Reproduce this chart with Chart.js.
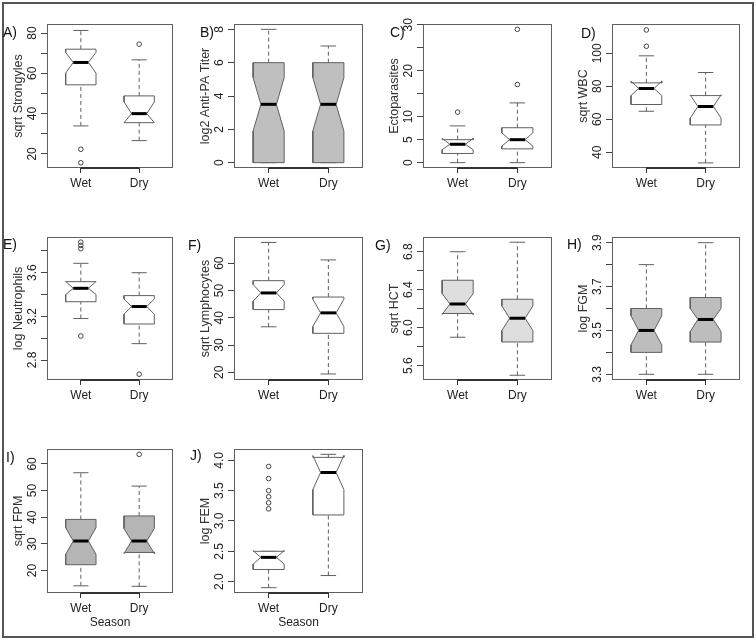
<!DOCTYPE html>
<html>
<head>
<meta charset="utf-8">
<script src="https://cdn.jsdelivr.net/npm/chart.js@4.4.1/dist/chart.umd.min.js"></script>
<style>
  body { margin: 0; background: #fff; width: 756px; height: 640px; position: relative; overflow: hidden; font-family: "Liberation Sans", Arial, sans-serif; }
  #frame { position: absolute; left: 2px; top: 2px; width: 752px; height: 636px; box-sizing: border-box; border: 2px solid #555; }
  canvas { position: absolute; }
  .tag { position: absolute; font-size: 14px; line-height: 14px; color: #111; }
</style>
</head>
<body>
<div id="frame"></div>
<script>
// Groups on the x axis
const seasons = ['Wet', 'Dry'];

// Boxes: [lower whisker, Q1, median, Q3, upper whisker]
// Notches: [low, high] for Wet and Dry; outliers per season
const strongylesWet = [33.9, 54.3, 65.4, 72.0, 81.3];
const strongylesDry = [26.6, 35.5, 40.0, 48.8, 66.7];
const strongylesNotch = [[60.1, 70.4], [35.5, 45.8]];
const strongylesOut = [[22.3, 15.6], [74.5]];
const strongylesTicks = [20, 30, 40, 50, 60, 70, 80];
const strongylesLabels = ['20', '40', '60', '80'];

const titerWet = [0, 0, 3.5, 6, 8];
const titerDry = [0, 0, 3.5, 6, 7];
const titerNotch = [[1.9, 5.1], [1.9, 5.1]];
const titerOut = [[], []];
const titerTicks = [0, 2, 4, 6, 8];
const titerLabels = ['0', '2', '4', '6', '8'];

const ectoWet = [0, 2, 4, 5, 8];
const ectoDry = [0, 3, 5, 7.6, 13];
const ectoNotch = [[2.8, 5.3], [3.6, 6.5]];
const ectoOut = [[11], [17, 29]];
const ectoTicks = [0, 5, 10, 15, 20, 25, 30];
const ectoLabels = ['0', '5', '10', '20', '30'];

const wbcWet = [64.9, 69.0, 78.7, 82.1, 98.5];
const wbcDry = [33.6, 56.6, 67.8, 74.4, 88.4];
const wbcNotch = [[74.4, 83.2], [60.8, 74.8]];
const wbcOut = [[104.3, 114.2], []];
const wbcTicks = [40, 60, 80, 100];
const wbcLabels = ['40', '60', '80', '100'];

const neutWet = [3.18, 3.334, 3.457, 3.518, 3.686];
const neutDry = [2.95, 3.13, 3.29, 3.39, 3.60];
const neutNotch = [[3.40, 3.52], [3.22, 3.36]];
const neutOut = [[3.02, 3.82, 3.85, 3.88], [2.67]];
const neutTicks = [2.8, 3.0, 3.2, 3.4, 3.6, 3.8];
const neutLabels = ['2.8', '3.2', '3.6'];

const lymphWet = [36.7, 43.0, 49.1, 53.6, 67.6];
const lymphDry = [19.4, 34.3, 41.8, 47.6, 61.2];
const lymphNotch = [[46.1, 52.2], [36.8, 46.8]];
const lymphOut = [[], []];
const lymphTicks = [20, 30, 40, 50, 60];
const lymphLabels = ['20', '30', '40', '50', '60'];

const hctWet = [5.9, 6.15, 6.25, 6.5, 6.8];
const hctDry = [5.5, 5.85, 6.1, 6.3, 6.9];
const hctNotch = [[6.14, 6.36], [5.97, 6.23]];
const hctOut = [[], []];
const hctTicks = [5.6, 5.8, 6.0, 6.2, 6.4, 6.6, 6.8];
const hctLabels = ['5.6', '6.0', '6.4', '6.8'];

const fgmWet = [3.3, 3.4, 3.5, 3.6, 3.8];
const fgmDry = [3.3, 3.447, 3.55, 3.65, 3.9];
const fgmNotch = [[3.434, 3.567], [3.495, 3.6]];
const fgmOut = [[], []];
const fgmTicks = [3.3, 3.4, 3.5, 3.6, 3.7, 3.8, 3.9];
const fgmLabels = ['3.3', '3.5', '3.7', '3.9'];

const fpmWet = [14.3, 22.2, 31.1, 39.2, 56.7];
const fpmDry = [14.1, 26.8, 31.1, 40.5, 51.7];
const fpmNotch = [[26.1, 36.1], [26.4, 35.8]];
const fpmOut = [[], [63.6]];
const fpmTicks = [20, 30, 40, 50, 60];
const fpmLabels = ['20', '30', '40', '50', '60'];

const femWet = [1.9, 2.2, 2.4, 2.5, 2.5];
const femDry = [2.1, 3.1, 3.8, 4.05, 4.1];
const femNotch = [[2.29, 2.51], [3.52, 4.08]];
const femOut = [[3.2, 3.3, 3.4, 3.5, 3.7, 3.9], []];
const femTicks = [2.0, 2.5, 3.0, 3.5, 4.0];
const femLabels = ['2.0', '2.5', '3.0', '3.5', '4.0'];

// Panel setup (layout + y ranges)
const panels = [
  { tag: 'A)', title: 'sqrt Strongyles', wet: strongylesWet, dry: strongylesDry, notch: strongylesNotch, out: strongylesOut, ticks: strongylesTicks, labels: strongylesLabels, min: 13, max: 84.5, fill: '#ffffff', col: 0, row: 0, tagAt: [3, 25] },
  { tag: 'B)', title: 'log2 Anti-PA Titer', wet: titerWet, dry: titerDry, notch: titerNotch, out: titerOut, ticks: titerTicks, labels: titerLabels, min: -0.32, max: 8.32, fill: '#bfbfbf', col: 1, row: 0, tagAt: [200, 25] },
  { tag: 'C)', title: 'Ectoparasites', wet: ectoWet, dry: ectoDry, notch: ectoNotch, out: ectoOut, ticks: ectoTicks, labels: ectoLabels, min: -1.16, max: 30.16, fill: '#ffffff', col: 2, row: 0, tagAt: [390, 25] },
  { tag: 'D)', title: 'sqrt WBC', wet: wbcWet, dry: wbcDry, notch: wbcNotch, out: wbcOut, ticks: wbcTicks, labels: wbcLabels, min: 30.5, max: 117.8, fill: '#ffffff', col: 3, row: 0, tagAt: [581, 26] },
  { tag: 'E)', title: 'log Neutrophils', wet: neutWet, dry: neutDry, notch: neutNotch, out: neutOut, ticks: neutTicks, labels: neutLabels, min: 2.617, max: 3.927, fill: '#ffffff', col: 0, row: 1, tagAt: [3, 237] },
  { tag: 'F)', title: 'sqrt Lymphocytes', wet: lymphWet, dry: lymphDry, notch: lymphNotch, out: lymphOut, ticks: lymphTicks, labels: lymphLabels, min: 17.2, max: 69.6, fill: '#ffffff', col: 1, row: 1, tagAt: [188, 238] },
  { tag: 'G)', title: 'sqrt HCT', wet: hctWet, dry: hctDry, notch: hctNotch, out: hctOut, ticks: hctTicks, labels: hctLabels, min: 5.45, max: 6.955, fill: '#dedede', col: 2, row: 1, tagAt: [375, 238] },
  { tag: 'H)', title: 'log FGM', wet: fgmWet, dry: fgmDry, notch: fgmNotch, out: fgmOut, ticks: fgmTicks, labels: fgmLabels, min: 3.274, max: 3.926, fill: '#bdbdbd', col: 3, row: 1, tagAt: [567, 237] },
  { tag: 'I)', title: 'sqrt FPM', wet: fpmWet, dry: fpmDry, notch: fpmNotch, out: fpmOut, ticks: fpmTicks, labels: fpmLabels, min: 11.6, max: 65.6, fill: '#b5b5b5', col: 0, row: 2, tagAt: [6, 450], season: true },
  { tag: 'J)', title: 'log FEM', wet: femWet, dry: femDry, notch: femNotch, out: femOut, ticks: femTicks, labels: femLabels, min: 1.812, max: 4.188, fill: '#ffffff', col: 1, row: 2, tagAt: [190, 448], season: true }
];

// plot box edges
const colLeft = [47, 234, 423, 612];
const colRight = [173, 363, 552, 740];
const rowTop = [24, 237, 449];
const rowBottom = [168, 380, 593];

const FONT = '"Liberation Sans", Arial, sans-serif';
const BOX_HALF = 0.26;
const CAP_HALF = 0.13;
const NOTCH_HALF = 0.13;
const LINE_COL = '#606060';

// frame, x axis segment and rotated y labels (R style)
const rStyle = {
  id: 'rStyle',
  afterDraw(chart, args, opts) {
    const ctx = chart.ctx;
    const area = chart.chartArea;
    const xs = chart.scales.x, ys = chart.scales.y;
    ctx.save();
    ctx.strokeStyle = LINE_COL;
    ctx.lineWidth = 1;
    ctx.strokeRect(area.left + 0.5, area.top + 0.5, area.right - area.left - 1, area.bottom - area.top - 1);
    ctx.strokeStyle = '#333';
    ctx.lineWidth = 2;
    ctx.beginPath();
    ctx.moveTo(xs.getPixelForValue(1), area.bottom);
    ctx.lineTo(xs.getPixelForValue(2), area.bottom);
    ctx.stroke();
    ctx.fillStyle = '#222';
    ctx.font = '12px ' + FONT;
    ctx.textAlign = 'center';
    ctx.textBaseline = 'middle';
    opts.labels.forEach(t => {
      ctx.save();
      ctx.translate(area.left - 14, ys.getPixelForValue(parseFloat(t)));
      ctx.rotate(-Math.PI / 2);
      ctx.fillText(t, 0, 0);
      ctx.restore();
    });
    ctx.restore();
  }
};

function segment(points, opts) {
  return Object.assign({
    type: 'scatter', data: points, showLine: true, fill: false, tension: 0,
    pointRadius: 0, pointHitRadius: 0, borderColor: LINE_COL, borderWidth: 1
  }, opts);
}

function boxDatasets(p) {
  const sets = [];
  [p.wet, p.dry].forEach((b, i) => {
    const x = i + 1;
    const [lo, q1, med, q3, hi] = b;
    const [nLo, nHi] = p.notch[i];
    const w = BOX_HALF, n = NOTCH_HALF;
    sets.push(segment([{ x, y: q3 }, { x, y: hi }], { borderDash: [4, 3], order: 4 }));
    sets.push(segment([{ x, y: lo }, { x, y: q1 }], { borderDash: [4, 3], order: 4 }));
    sets.push(segment([{ x: x - CAP_HALF, y: hi }, { x: x + CAP_HALF, y: hi }], { order: 4 }));
    sets.push(segment([{ x: x - CAP_HALF, y: lo }, { x: x + CAP_HALF, y: lo }], { order: 4 }));
    sets.push(segment([
      { x: x - w, y: q1 }, { x: x + w, y: q1 }, { x: x + w, y: nLo }, { x: x + n, y: med },
      { x: x + w, y: nHi }, { x: x + w, y: q3 }, { x: x - w, y: q3 }, { x: x - w, y: nHi },
      { x: x - n, y: med }, { x: x - w, y: nLo }, { x: x - w, y: q1 }
    ], { fill: 'shape', backgroundColor: p.fill, order: 3 }));
    sets.push(segment([{ x: x - n, y: med }, { x: x + n, y: med }], { borderColor: '#000', borderWidth: 3, order: 2 }));
    sets.push({
      type: 'scatter', data: p.out[i].map(v => ({ x, y: v })), showLine: false,
      pointRadius: 2.3, pointBorderWidth: 1, pointBorderColor: '#444',
      pointBackgroundColor: 'rgba(0,0,0,0)', order: 1
    });
  });
  return sets;
}

panels.forEach(p => {
  const left = colLeft[p.col], right = colRight[p.col];
  const top = rowTop[p.row], bottom = rowBottom[p.row];
  const xh = p.season ? 46 : 26;
  const canvas = document.createElement('canvas');
  const cw = right - left + 48, ch = bottom - top + 6 + xh;
  canvas.width = cw; canvas.height = ch;
  canvas.style.left = (left - 42) + 'px';
  canvas.style.top = (top - 6) + 'px';
  canvas.style.width = cw + 'px';
  canvas.style.height = ch + 'px';
  document.body.appendChild(canvas);

  const tag = document.createElement('div');
  tag.className = 'tag';
  tag.textContent = p.tag;
  tag.style.left = p.tagAt[0] + 'px';
  tag.style.top = p.tagAt[1] + 'px';
  document.body.appendChild(tag);

  new Chart(canvas.getContext('2d'), {
    type: 'scatter',
    data: { datasets: boxDatasets(p) },
    options: {
      responsive: false,
      animation: false,
      events: [],
      layout: { padding: { top: 6, right: 6, left: 0, bottom: 0 } },
      plugins: {
        legend: { display: false },
        tooltip: { enabled: false },
        rStyle: { labels: p.labels }
      },
      scales: {
        x: {
          type: 'linear', min: 0.42, max: 2.58, bounds: 'data',
          afterBuildTicks: s => { s.ticks = seasons.map((_, i) => ({ value: i + 1 })); },
          afterFit: s => { s.height = xh; },
          ticks: { callback: v => seasons[v - 1], color: '#222', font: { family: FONT, size: 12 }, padding: 3, autoSkip: false, maxRotation: 0 },
          grid: { drawOnChartArea: false, drawTicks: true, tickLength: 5, color: '#333' },
          border: { display: false },
          title: { display: !!p.season, text: 'Season', color: '#222', font: { family: FONT, size: 12 }, padding: { top: 0, bottom: 9 } }
        },
        y: {
          type: 'linear', min: p.min, max: p.max, bounds: 'data',
          afterBuildTicks: s => { s.ticks = p.ticks.map(v => ({ value: v })); },
          afterFit: s => { s.width = 42; },
          ticks: { display: false },
          grid: { drawOnChartArea: false, drawTicks: true, tickLength: 6, color: '#444' },
          border: { display: false },
          title: { display: true, text: p.title, color: '#333', font: { family: FONT, size: 12.5 }, padding: { top: 6.5, bottom: 0 } }
        }
      }
    },
    plugins: [rStyle]
  });
});
</script>
</body>
</html>
